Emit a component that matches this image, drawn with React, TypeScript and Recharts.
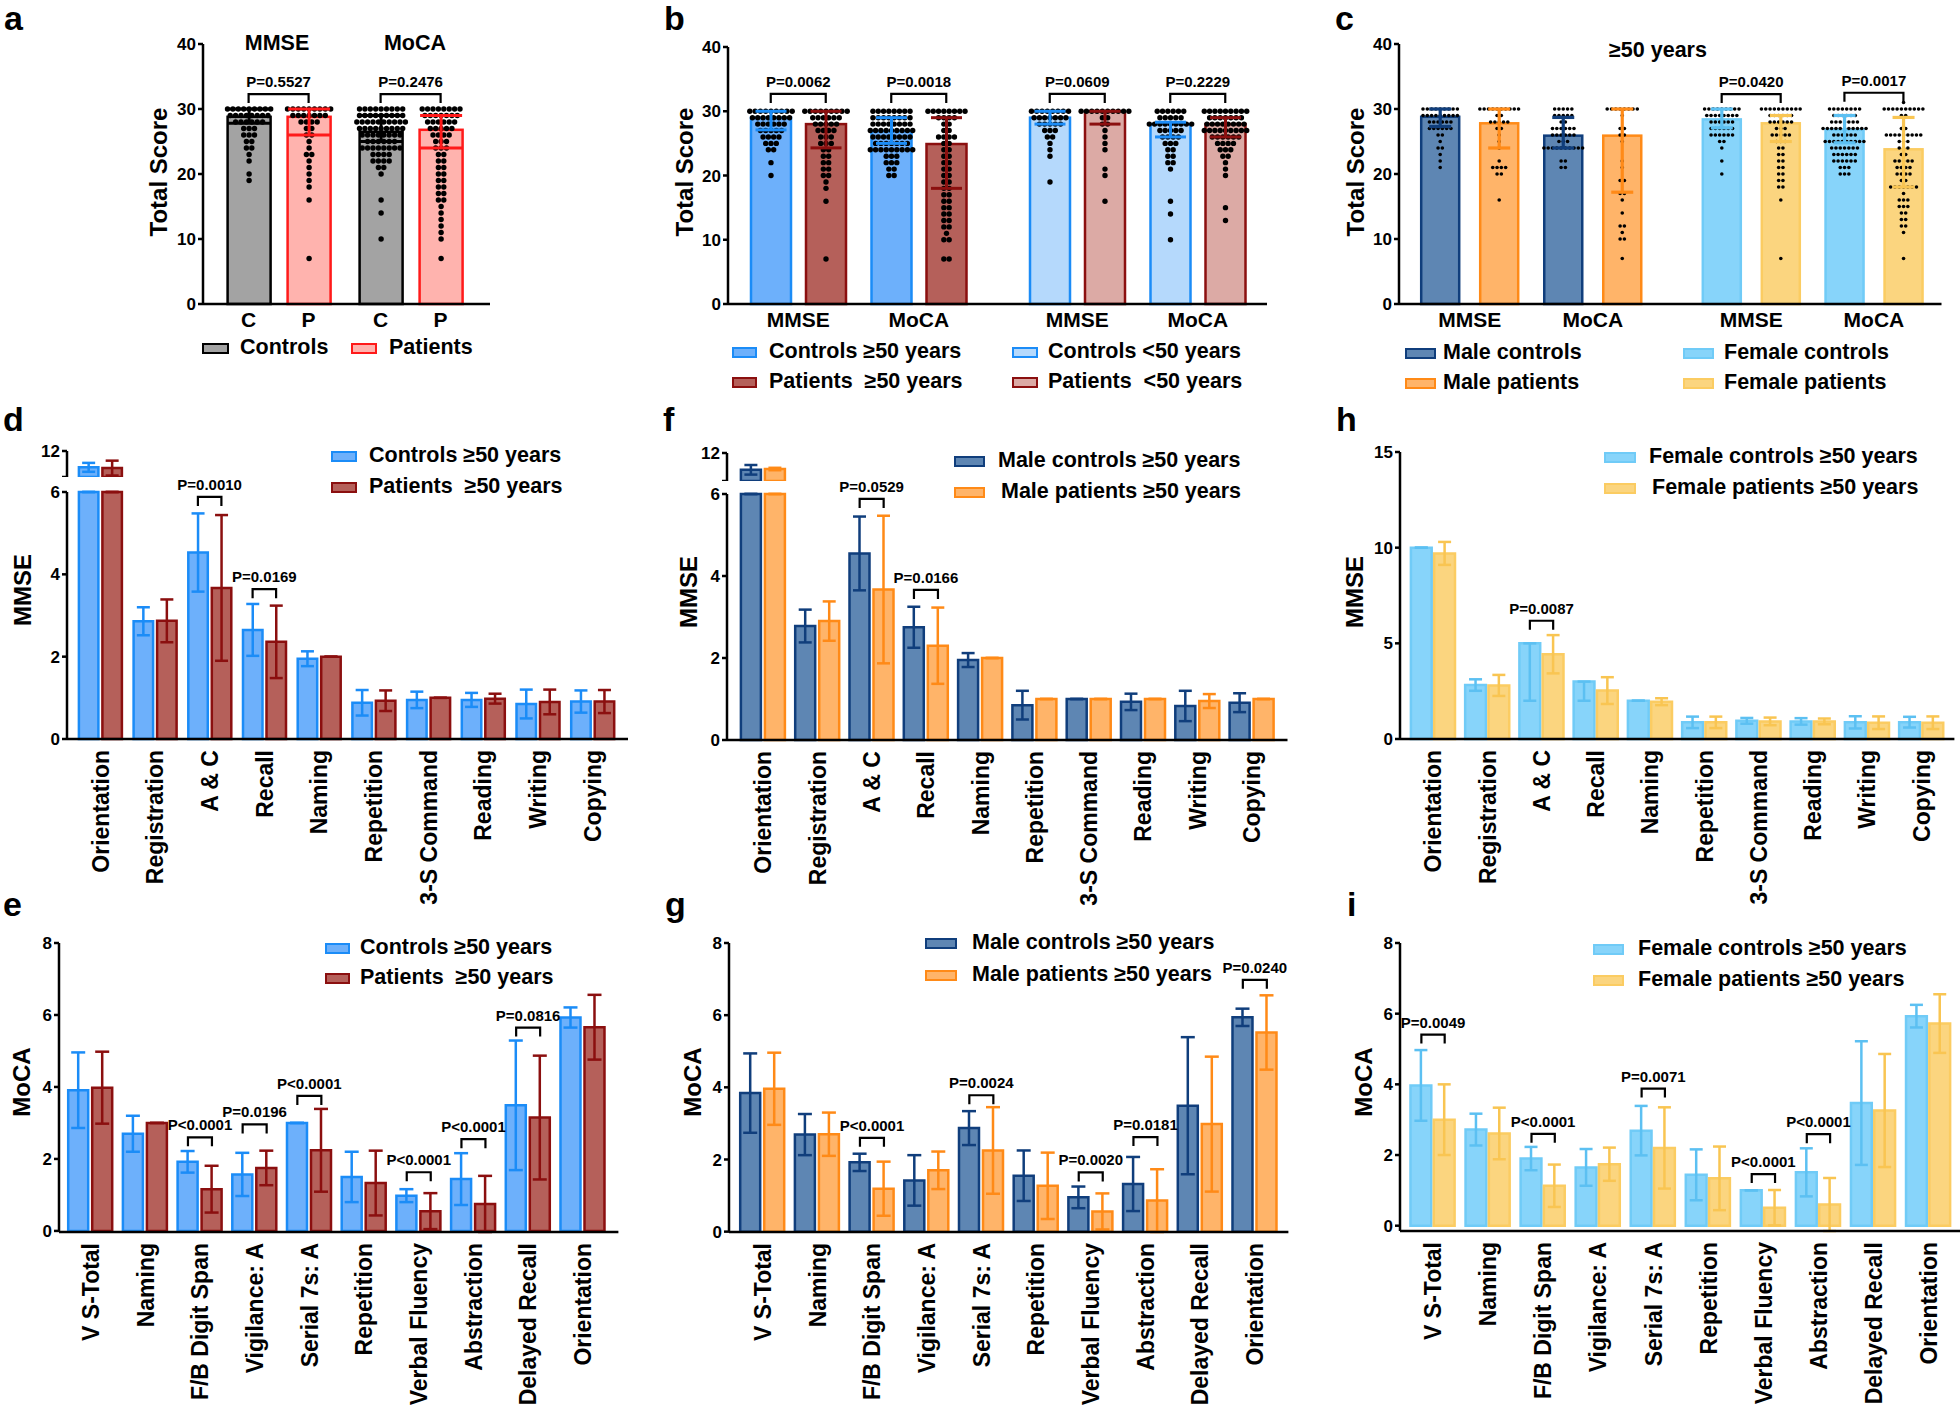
import React from 'react';
import { BarChart, Bar, XAxis, YAxis, ErrorBar, ReferenceLine } from 'recharts';

const SANS = "'Liberation Sans', Arial, sans-serif";

type Err = number | [number, number];
type Dots = [number, number][];
type Colors = { fill: string; line: string; err: string };
type Bracket = { cat: string; y: number; p: string };

// ---------- colours
const GRAY = { fill: '#a3a3a3', line: '#000000', err: '#000000' };
const PINK = { fill: '#ffb3ae', line: '#ff1a1a', err: '#ff1a1a' };
const BLUE = { fill: '#6db0fb', line: '#1b8cf7', err: '#1b8cf7' };
const RED = { fill: '#b5605a', line: '#8b0f0f', err: '#8b0f0f' };
const LBLUE = { fill: '#b5d9fc', line: '#1b8cf7', err: '#1b8cf7' };
const LRED = { fill: '#dcaaa5', line: '#8b0f0f', err: '#8b0f0f' };
const NAVY = { fill: '#5e86b3', line: '#103e7c', err: '#103e7c' };
const ORANGE = { fill: '#ffb469', line: '#ff8a17', err: '#ff8a17' };
const SKY = { fill: '#87d4fa', line: '#70cbf7', err: '#5cc0f2' };
const GOLD = { fill: '#fbd57f', line: '#fbcc62', err: '#f9c552' };

// ---------- panel a (total scores, all ages)
const aCats = ['MMSE', 'MoCA'];
const aCtrl = [28.8, 26.5];
const aCtrlErr: Err[] = [[1, 1.2], [1.5, 2.5]];
const aPat = [28.8, 26.8];
const aPatErr: Err[] = [[2.8, 1.2], [2.8, 2.2]];
const aCtrlDots: Dots[] = [
  [[30, 9], [29, 8], [28, 6], [27, 3], [26, 3], [25, 2], [24, 2], [23, 1], [22, 1], [20, 1], [19, 1]],
  [[30, 9], [29, 9], [28, 10], [27, 9], [26, 8], [25, 6], [24, 8], [23, 4], [22, 4], [21, 2], [20, 1], [16, 1], [14, 1], [10, 1]],
];
const aPatDots: Dots[] = [
  [[30, 9], [29, 7], [28, 4], [27, 2], [26, 2], [25, 1], [24, 1], [23, 2], [22, 1], [21, 1], [20, 1], [19, 1], [18, 1], [16, 1], [7, 1]],
  [[30, 8], [29, 7], [28, 6], [27, 5], [26, 4], [25, 3], [24, 3], [23, 2], [22, 2], [21, 2], [20, 2], [19, 2], [18, 2], [17, 2], [16, 2], [15, 1], [14, 1], [13, 1], [12, 1], [11, 1], [10, 1], [7, 1]],
];
const aTickLabels: [string, string] = ['C', 'P'];
const aBrackets: Bracket[] = [
  { cat: 'MMSE', y: 32.3, p: 'P=0.5527' },
  { cat: 'MoCA', y: 32.3, p: 'P=0.2476' },
];

// ---------- panel b (by age)
const bCats = ['MMSE', 'MoCA'];
const bCtrlOld = [29.0, 26.9];
const bCtrlOldErr: Err[] = [[1.9, 1.0], [1.9, 2.1]];
const bPatOld = [28.0, 24.9];
const bPatOldErr: Err[] = [[3.7, 2.0], [6.9, 4.1]];
const bCtrlYoung = [29.0, 28.0];
const bCtrlYoungErr: Err[] = [[1.0, 1.0], [2.0, 0.3]];
const bPatYoung = [30.0, 28.0];
const bPatYoungErr: Err[] = [[2.0, 0], [2.0, 1.0]];
const bCtrlOldDots: Dots[] = [
  [[30, 9], [29, 8], [28, 6], [27, 5], [26, 4], [25, 3], [24, 2], [22, 1], [20, 1]],
  [[30, 8], [29, 8], [28, 8], [27, 9], [26, 8], [25, 7], [24, 9], [23, 3], [22, 3], [21, 2], [20, 2]],
];
const bPatOldDots: Dots[] = [
  [[30, 9], [29, 6], [28, 5], [27, 4], [26, 3], [25, 3], [24, 2], [23, 2], [22, 2], [21, 2], [20, 2], [19, 1], [18, 1], [16, 1], [7, 1]],
  [[30, 8], [29, 4], [28, 2], [27, 2], [26, 4], [25, 2], [24, 2], [23, 2], [22, 2], [21, 2], [20, 2], [19, 2], [18, 2], [17, 2], [16, 2], [15, 2], [14, 2], [13, 2], [12, 2], [11, 1], [10, 2], [7, 2]],
];
const bCtrlYoungDots: Dots[] = [
  [[30, 8], [29, 7], [28, 5], [27, 3], [26, 2], [25, 1], [24, 1], [23, 1], [19, 1]],
  [[30, 6], [29, 5], [28, 9], [27, 5], [26, 4], [25, 3], [24, 2], [23, 2], [22, 2], [21, 1], [16, 1], [14, 1], [10, 1]],
];
const bPatYoungDots: Dots[] = [
  [[30, 10], [29, 2], [28, 2], [27, 1], [26, 1], [25, 1], [24, 1], [21, 1], [20, 1], [16, 1]],
  [[30, 9], [29, 7], [28, 8], [27, 9], [26, 6], [25, 4], [24, 3], [23, 2], [22, 1], [21, 1], [20, 1], [15, 1], [13, 1]],
];
const bOldBrackets: Bracket[] = [
  { cat: 'MMSE', y: 32.7, p: 'P=0.0062' },
  { cat: 'MoCA', y: 32.7, p: 'P=0.0018' },
];
const bYoungBrackets: Bracket[] = [
  { cat: 'MMSE', y: 32.7, p: 'P=0.0609' },
  { cat: 'MoCA', y: 32.7, p: 'P=0.2229' },
];

// ---------- panel c (by sex, >=50 years)
const cCats = ['MMSE', 'MoCA'];
const cMaleCtrl = [28.8, 25.9];
const cMaleCtrlErr: Err[] = [[1.5, 1.2], [1.9, 2.8]];
const cMalePat = [27.8, 25.9];
const cMalePatErr: Err[] = [[3.8, 2.2], [8.7, 4.1]];
const cFemCtrl = [28.4, 26.8];
const cFemCtrlErr: Err[] = [[1.3, 1.6], [2.0, 2.2]];
const cFemPat = [27.8, 23.8];
const cFemPatErr: Err[] = [[2.8, 1.2], [5.8, 4.9]];
const cMaleCtrlDots: Dots[] = [
  [[30, 9], [29, 9], [28, 6], [27, 6], [26, 2], [25, 1], [24, 2], [23, 1], [22, 1], [21, 1]],
  [[30, 5], [29, 5], [28, 2], [27, 6], [26, 6], [25, 3], [24, 10], [22, 2], [21, 2]],
];
const cMalePatDots: Dots[] = [
  [[30, 10], [29, 2], [28, 5], [27, 2], [26, 1], [25, 1], [24, 1], [22, 1], [21, 4], [20, 2], [16, 1]],
  [[30, 8], [29, 1], [27, 2], [26, 2], [25, 1], [22, 1], [21, 1], [19, 2], [17, 2], [16, 1], [14, 1], [12, 2], [11, 1], [10, 2], [7, 1]],
];
const cFemCtrlDots: Dots[] = [
  [[30, 9], [29, 8], [28, 6], [27, 6], [26, 6], [25, 2], [24, 1], [22, 1], [20, 1]],
  [[30, 8], [29, 6], [28, 7], [27, 11], [26, 6], [25, 10], [24, 7], [23, 6], [22, 6], [21, 3], [20, 3]],
];
const cFemPatDots: Dots[] = [
  [[30, 10], [29, 6], [28, 6], [27, 3], [26, 5], [25, 3], [24, 2], [23, 2], [22, 2], [21, 2], [20, 2], [19, 2], [18, 2], [16, 1], [7, 1]],
  [[31, 1], [30, 10], [29, 2], [27, 2], [26, 9], [25, 3], [24, 3], [23, 2], [22, 5], [21, 4], [20, 4], [19, 2], [18, 7], [17, 1], [16, 3], [15, 3], [14, 2], [13, 2], [12, 2], [11, 1], [7, 1]],
];
const cFemBrackets: Bracket[] = [
  { cat: 'MMSE', y: 32.3, p: 'P=0.0420' },
  { cat: 'MoCA', y: 32.5, p: 'P=0.0017' },
];

// ---------- MMSE sub-scores (d, f, h)
const mmseCats = ['Orientation', 'Registration', 'A & C', 'Recall', 'Naming', 'Repetition', '3-S Command', 'Reading', 'Writing', 'Copying'];
const dCtrl = [9.8, 2.86, 4.53, 2.65, 1.95, 0.88, 0.95, 0.95, 0.85, 0.91];
const dCtrlErr: Err[] = [0.6, 0.34, 0.95, 0.63, 0.18, 0.31, 0.2, 0.17, 0.35, 0.27];
const dPat = [9.7, 2.87, 3.67, 2.36, 2.0, 0.93, 1.0, 0.98, 0.9, 0.91];
const dPatErr: Err[] = [1.0, 0.52, 1.77, 0.88, 0, 0.25, 0, 0.12, 0.3, 0.28];
const dBrackets: Bracket[] = [
  { cat: 'A & C', y: 5.88, p: 'P=0.0010' },
  { cat: 'Recall', y: 3.64, p: 'P=0.0169' },
];
const fCtrl = [9.9, 2.78, 4.55, 2.75, 1.95, 0.85, 1.0, 0.93, 0.83, 0.91];
const fCtrlErr: Err[] = [0.6, 0.4, 0.9, 0.5, 0.17, 0.35, 0, 0.2, 0.37, 0.23];
const fPat = [10.0, 2.9, 3.67, 2.3, 2.0, 1.0, 1.0, 1.0, 0.95, 1.0];
const fPatErr: Err[] = [0.15, 0.48, 1.8, 0.93, 0, 0, 0, 0, 0.17, 0];
const fBrackets: Bracket[] = [
  { cat: 'A & C', y: 5.88, p: 'P=0.0529' },
  { cat: 'Recall', y: 3.66, p: 'P=0.0166' },
];
const hCtrl = [10.0, 2.82, 5.0, 3.0, 2.0, 0.87, 0.95, 0.92, 0.87, 0.88];
const hCtrlErr: Err[] = [0, 0.3, [3, 0], [1, 0], 0, 0.3, 0.15, 0.17, 0.32, 0.28];
const hPat = [9.7, 2.8, 4.43, 2.53, 1.95, 0.87, 0.92, 0.92, 0.85, 0.85];
const hPatErr: Err[] = [0.6, 0.55, 1.0, 0.7, 0.18, 0.3, 0.2, 0.15, 0.33, 0.33];
const hBrackets: Bracket[] = [{ cat: 'A & C', y: 6.18, p: 'P=0.0087' }];

// ---------- MoCA sub-scores (e, g, i)
const mocaCats = ['V S-Total', 'Naming', 'F/B Digit Span', 'Vigilance: A', 'Serial 7s: A', 'Repetition', 'Verbal Fluency', 'Abstraction', 'Delayed Recall', 'Orientation'];
const eCtrl = [3.91, 2.7, 1.92, 1.57, 3.0, 1.5, 0.98, 1.44, 3.49, 5.93];
const eCtrlErr: Err[] = [1.05, 0.5, 0.3, 0.6, 0, 0.7, 0.18, 0.72, 1.8, 0.28];
const ePat = [3.98, 3.0, 1.16, 1.75, 2.24, 1.33, 0.55, 0.75, 3.15, 5.66];
const ePatErr: Err[] = [1.0, 0, 0.65, 0.48, 1.15, 0.9, 0.5, 0.78, 1.72, 0.9];
const eBrackets: Bracket[] = [
  { cat: 'F/B Digit Span', y: 2.6, p: 'P<0.0001' },
  { cat: 'Vigilance: A', y: 2.96, p: 'P=0.0196' },
  { cat: 'Serial 7s: A', y: 3.75, p: 'P<0.0001' },
  { cat: 'Verbal Fluency', y: 1.63, p: 'P<0.0001' },
  { cat: 'Abstraction', y: 2.55, p: 'P<0.0001' },
  { cat: 'Delayed Recall', y: 5.65, p: 'P=0.0816' },
];
const gCtrl = [3.84, 2.69, 1.92, 1.42, 2.87, 1.55, 0.95, 1.32, 3.49, 5.94];
const gCtrlErr: Err[] = [1.1, 0.57, 0.24, 0.7, 0.47, 0.7, 0.3, 0.75, 1.9, 0.24];
const gPat = [3.96, 2.7, 1.19, 1.7, 2.25, 1.27, 0.56, 0.86, 2.98, 5.52];
const gPatErr: Err[] = [1.0, 0.6, 0.75, 0.52, 1.2, 0.92, 0.5, 0.87, 1.87, 1.03];
const gBrackets: Bracket[] = [
  { cat: 'F/B Digit Span', y: 2.6, p: 'P<0.0001' },
  { cat: 'Serial 7s: A', y: 3.78, p: 'P=0.0024' },
  { cat: 'Verbal Fluency', y: 1.64, p: 'P=0.0020' },
  { cat: 'Abstraction', y: 2.62, p: 'P=0.0181' },
  { cat: 'Orientation', y: 6.98, p: 'P=0.0240' },
];
const iCtrl = [3.97, 2.72, 1.9, 1.65, 2.69, 1.44, 1.0, 1.51, 3.47, 5.93];
const iCtrlErr: Err[] = [1.0, 0.45, 0.33, 0.52, 0.7, 0.72, 0, 0.68, 1.75, 0.32];
const iPat = [3.0, 2.61, 1.13, 1.74, 2.2, 1.34, 0.51, 0.6, 3.26, 5.72];
const iPatErr: Err[] = [1.0, 0.73, 0.6, 0.47, 1.15, 0.9, 0.5, 0.75, 1.6, 0.83];
const iBrackets: Bracket[] = [
  { cat: 'V S-Total', y: 5.41, p: 'P=0.0049' },
  { cat: 'F/B Digit Span', y: 2.6, p: 'P<0.0001' },
  { cat: 'Serial 7s: A', y: 3.88, p: 'P=0.0071' },
  { cat: 'Verbal Fluency', y: 1.46, p: 'P<0.0001' },
  { cat: 'Abstraction', y: 2.59, p: 'P<0.0001' },
];

const totalTicks = [0, 10, 20, 30, 40];

// ---------- helpers
const pair = (e: Err): [number, number] => (Array.isArray(e) ? e : [e, e]);
const AXW = 50;
const MT = 25;
const MR = 10;

const BText = ({ x, y, size, anchor = 'middle', dy, children }: any) => (
  <text x={x} y={y} textAnchor={anchor} dy={dy} fill="#000" fontFamily={SANS} fontWeight={700} fontSize={size}>
    {children}
  </text>
);

const yTick = (fmt?: (v: number) => string) => (props: any) => {
  const { x, y, payload } = props;
  const s = fmt ? fmt(payload.value) : String(payload.value);
  return <BText x={x} y={y} size={17} anchor="end" dy="0.355em">{s}</BText>;
};

const yAxisStyle = {
  axisLine: { stroke: '#000', strokeWidth: 2.5 },
  tickLine: { stroke: '#000', strokeWidth: 2.5 },
  tickSize: 5,
  tickMargin: 2,
  interval: 0 as const,
};

function bracketShape(off: number, label: string, leg = 9) {
  return (props: any) => {
    const { x1, x2, y1 } = props;
    if (x1 == null || y1 == null) return <g />;
    const xa = Math.min(x1, x2) - off;
    const xb = Math.max(x1, x2) + off;
    return (
      <g>
        <path d={`M${xa},${y1 + leg}V${y1}H${xb}V${y1 + leg}`} fill="none" stroke="#000" strokeWidth={2.2} />
        <BText x={(xa + xb) / 2} y={y1 - 7} size={15}>{label}</BText>
      </g>
    );
  };
}

const RotTick = (props: any) => {
  const { x, y, payload } = props;
  const yy = y + 3;
  return (
    <text x={x} y={yy} transform={`rotate(-90 ${x} ${yy})`} textAnchor="end" dy="0.36em" fill="#000" fontFamily={SANS} fontWeight={700} fontSize={23}>
      {payload.value}
    </text>
  );
};

const catTick = (props: any) => {
  const { x, y, payload } = props;
  return <BText x={x} y={y} size={21} dy="0.71em">{payload.value}</BText>;
};

const pairTick = (labels: [string, string], off: number) => (props: any) => {
  const { x, y } = props;
  return (
    <g>
      {labels.map((l, k) => (
        <BText key={l + k} x={x + (k === 0 ? -off : off)} y={y} size={21} dy="0.71em">{l}</BText>
      ))}
    </g>
  );
};

// bar with its individual scores drawn as a swarm over it
function swarmShape(col: Colors, cats: string[], dots: Dots[], key: string, r: number, step: number, maxW: number) {
  return (props: any) => {
    const { x, y, width, height, payload } = props;
    const mean = payload[key];
    const base = y + height;
    const unit = height / mean;
    const cx = x + width / 2;
    const list = dots[cats.indexOf(payload.cat)] || [];
    const circles: React.ReactNode[] = [];
    list.forEach(([v, n], k) => {
      const s = n > 1 ? Math.min(step, maxW / (n - 1)) : 0;
      for (let i = 0; i < n; i++) {
        circles.push(<circle key={`${k}-${i}`} cx={cx + (i - (n - 1) / 2) * s} cy={base - v * unit} r={r} fill="#000" />);
      }
    });
    return (
      <g>
        <rect x={x} y={y} width={width} height={height} fill={col.fill} stroke={col.line} strokeWidth={2.5} />
        {circles}
      </g>
    );
  };
}

interface DotPanelProps {
  x0: number; x1: number; yTop: number; yBot: number; hideY?: boolean;
  cats: string[];
  a: number[]; aErr: Err[]; aDots: Dots[]; ca: Colors;
  b: number[]; bErr: Err[]; bDots: Dots[]; cb: Colors;
  barSize: number; barGap: number; padL: number; padR: number; capW: number; errW?: number;
  dotR: number; dotStep: number; dotMax: number;
  brackets: Bracket[];
  pairLabels?: [string, string];
}

function DotPanel(p: DotPanelProps) {
  const axw = p.hideY ? 0 : AXW;
  const w = axw + p.x1 - p.x0 + MR;
  const h = MT + p.yBot - p.yTop + 36;
  const data = p.cats.map((cat, i) => ({ cat, a: p.a[i], ae: pair(p.aErr[i]), b: p.b[i], be: pair(p.bErr[i]) }));
  const off = (p.barSize + p.barGap) / 2;
  const ew = p.errW ?? 2.5;
  return (
    <div style={{ position: 'absolute', left: p.x0 - axw, top: p.yTop - MT }}>
      <BarChart width={w} height={h} data={data} margin={{ top: MT, right: MR, bottom: 0, left: 0 }} barGap={p.barGap}>
        <XAxis dataKey="cat" height={36} padding={{ left: p.padL, right: p.padR }} axisLine={{ stroke: '#000', strokeWidth: 2.5 }} tickLine={false} interval={0}
          tick={p.pairLabels ? pairTick(p.pairLabels, off) : catTick} />
        <YAxis {...yAxisStyle} width={AXW} hide={p.hideY} domain={[0, 40]} ticks={totalTicks} tick={yTick()} />
        <Bar dataKey="a" barSize={p.barSize} isAnimationActive={false} shape={swarmShape(p.ca, p.cats, p.aDots, 'a', p.dotR, p.dotStep, p.dotMax)}>
          <ErrorBar dataKey="ae" direction="y" stroke={p.ca.err} strokeWidth={ew} width={p.capW} />
        </Bar>
        <Bar dataKey="b" barSize={p.barSize} isAnimationActive={false} shape={swarmShape(p.cb, p.cats, p.bDots, 'b', p.dotR, p.dotStep, p.dotMax)}>
          <ErrorBar dataKey="be" direction="y" stroke={p.cb.err} strokeWidth={ew} width={p.capW} />
        </Bar>
        {p.brackets.map((br) => (
          <ReferenceLine key={br.cat} ifOverflow="visible" segment={[{ x: br.cat, y: br.y }, { x: br.cat, y: br.y }]} shape={bracketShape(off, br.p)} />
        ))}
      </BarChart>
    </div>
  );
}

interface GroupProps {
  x0: number; x1: number; yTop: number; yBot: number;
  cats: string[];
  a: number[]; aErr: Err[]; ca: Colors;
  b: number[]; bErr: Err[]; cb: Colors;
  domain: [number, number]; ticks: number[];
  barSize: number; barGap: number; padL: number; padR: number; capW: number;
  brackets: Bracket[];
  brk?: { top: number; bottom: number; min: number; max: number };
}

const XH = 190;

function GroupPanel(p: GroupProps) {
  const w = AXW + p.x1 - p.x0 + MR;
  const max = p.domain[1];
  const off = (p.barSize + p.barGap) / 2;
  const data = p.cats.map((cat, i) => ({
    cat,
    a: Math.min(p.a[i], max),
    ae: p.a[i] > max ? [0, 0] : pair(p.aErr[i]),
    b: Math.min(p.b[i], max),
    be: p.b[i] > max ? [0, 0] : pair(p.bErr[i]),
  }));
  const bars = () => [
    <Bar key="a" dataKey="a" fill={p.ca.fill} stroke={p.ca.line} strokeWidth={2.5} barSize={p.barSize} isAnimationActive={false}>
      <ErrorBar dataKey="ae" direction="y" stroke={p.ca.err} strokeWidth={2.5} width={p.capW} />
    </Bar>,
    <Bar key="b" dataKey="b" fill={p.cb.fill} stroke={p.cb.line} strokeWidth={2.5} barSize={p.barSize} isAnimationActive={false}>
      <ErrorBar dataKey="be" direction="y" stroke={p.cb.err} strokeWidth={2.5} width={p.capW} />
    </Bar>,
  ];
  let top: React.ReactNode = null;
  if (p.brk) {
    const bk = p.brk;
    const topData = p.cats.map((cat, i) => ({
      cat,
      a: p.a[i] > bk.min ? p.a[i] : null,
      ae: pair(p.aErr[i]),
      b: p.b[i] > bk.min ? p.b[i] : null,
      be: pair(p.bErr[i]),
    }));
    top = (
      <div style={{ position: 'absolute', left: p.x0 - AXW, top: bk.top - MT }}>
        <BarChart width={w} height={MT + bk.bottom - bk.top} data={topData} margin={{ top: MT, right: MR, bottom: 0, left: 0 }} barGap={p.barGap}>
          <XAxis dataKey="cat" hide padding={{ left: p.padL, right: p.padR }} />
          <YAxis {...yAxisStyle} width={AXW} domain={[bk.min, bk.max]} ticks={[bk.min, bk.max]} allowDataOverflow
            tick={yTick((v: number) => (v === bk.max ? String(v) : ''))} />
          {bars()}
        </BarChart>
      </div>
    );
  }
  return (
    <>
      {top}
      <div style={{ position: 'absolute', left: p.x0 - AXW, top: p.yTop - MT }}>
        <BarChart width={w} height={MT + p.yBot - p.yTop + XH} data={data} margin={{ top: MT, right: MR, bottom: 0, left: 0 }} barGap={p.barGap}>
          <XAxis dataKey="cat" height={XH} padding={{ left: p.padL, right: p.padR }} axisLine={{ stroke: '#000', strokeWidth: 2.5 }} tickLine={false} interval={0} tick={<RotTick />} />
          <YAxis {...yAxisStyle} width={AXW} domain={p.domain} ticks={p.ticks} tick={yTick()} />
          {bars()}
          {p.brackets.map((br) => (
            <ReferenceLine key={br.cat} ifOverflow="visible" segment={[{ x: br.cat, y: br.y }, { x: br.cat, y: br.y }]} shape={bracketShape(off, br.p)} />
          ))}
        </BarChart>
      </div>
    </>
  );
}

// ---------- text bits
const Letter = ({ x, base, t }: { x: number; base: number; t: string }) => (
  <div style={{ position: 'absolute', left: x, top: base - 29, fontFamily: SANS, fontWeight: 700, fontSize: 34, lineHeight: 1 }}>{t}</div>
);

const VTitle = ({ x, y, t }: { x: number; y: number; t: string }) => (
  <div style={{ position: 'absolute', left: x, top: y, transform: 'translate(-50%, -50%) rotate(-90deg)', fontFamily: SANS, fontWeight: 700, fontSize: 24, whiteSpace: 'pre', lineHeight: 1 }}>{t}</div>
);

const Title = ({ x, y, t }: { x: number; y: number; t: string }) => (
  <div style={{ position: 'absolute', left: x, top: y, transform: 'translate(-50%, -50%)', fontFamily: SANS, fontWeight: 700, fontSize: 21.5, whiteSpace: 'pre', lineHeight: 1 }}>{t}</div>
);

const Key = ({ x, y, w, tx, col, t }: { x: number; y: number; w: number; tx: number; col: Colors; t: string }) => (
  <>
    <div style={{ position: 'absolute', left: x, top: y - 5.5, width: w, height: 11, boxSizing: 'border-box', background: col.fill, border: `2.5px solid ${col.line}` }} />
    <div style={{ position: 'absolute', left: tx, top: y, transform: 'translateY(-50%)', fontFamily: SANS, fontWeight: 700, fontSize: 21.5, whiteSpace: 'pre', lineHeight: 1 }}>{t}</div>
  </>
);

export default function App() {
  return (
    <div style={{ position: 'absolute', left: 0, top: 0, width: 1960, height: 1410, background: '#fff', overflow: 'hidden' }}>
      {/* a */}
      <Letter x={4} base={30} t="a" />
      <VTitle x={159} y={172} t="Total Score" />
      <Title x={277} y={44} t="MMSE" />
      <Title x={415} y={44} t="MoCA" />
      <DotPanel x0={203} x1={490} yTop={44} yBot={304} cats={aCats}
        a={aCtrl} aErr={aCtrlErr} aDots={aCtrlDots} ca={GRAY}
        b={aPat} bErr={aPatErr} bDots={aPatDots} cb={PINK}
        barSize={43} barGap={17} padL={9.6} padR={13.4} capW={21} errW={3} dotR={2.7} dotStep={5.4} dotMax={50}
        brackets={aBrackets} pairLabels={aTickLabels} />
      <Key x={202} y={348} w={27} tx={240} col={GRAY} t="Controls" />
      <Key x={351} y={348} w={26} tx={389} col={PINK} t="Patients" />

      {/* b */}
      <Letter x={664} base={30} t="b" />
      <VTitle x={685} y={172} t="Total Score" />
      <DotPanel x0={728} x1={998} yTop={47} yBot={304} cats={bCats}
        a={bCtrlOld} aErr={bCtrlOldErr} aDots={bCtrlOldDots} ca={BLUE}
        b={bPatOld} bErr={bPatOldErr} bDots={bPatOldDots} cb={RED}
        barSize={40} barGap={15} padL={10} padR={19} capW={15.5} errW={3} dotR={2.7} dotStep={5.3} dotMax={48}
        brackets={bOldBrackets} />
      <DotPanel x0={998} x1={1267} yTop={47} yBot={304} hideY cats={bCats}
        a={bCtrlYoung} aErr={bCtrlYoungErr} aDots={bCtrlYoungDots} ca={LBLUE}
        b={bPatYoung} bErr={bPatYoungErr} bDots={bPatYoungDots} cb={LRED}
        barSize={40} barGap={15} padL={19} padR={9} capW={15.5} errW={3} dotR={2.7} dotStep={5.3} dotMax={48}
        brackets={bYoungBrackets} />
      <Key x={732} y={352} w={25} tx={769} col={BLUE} t="Controls ≥50 years" />
      <Key x={732} y={382} w={25} tx={769} col={RED} t="Patients  ≥50 years" />
      <Key x={1012} y={352} w={26} tx={1048} col={LBLUE} t="Controls <50 years" />
      <Key x={1012} y={382} w={26} tx={1048} col={LRED} t="Patients  <50 years" />

      {/* c */}
      <Letter x={1335} base={30} t="c" />
      <VTitle x={1356} y={172} t="Total Score" />
      <Title x={1658} y={51} t="≥50 years" />
      <DotPanel x0={1398.5} x1={1671.5} yTop={44} yBot={304} cats={cCats}
        a={cMaleCtrl} aErr={cMaleCtrlErr} aDots={cMaleCtrlDots} ca={NAVY}
        b={cMalePat} bErr={cMalePatErr} bDots={cMalePatDots} cb={ORANGE}
        barSize={38} barGap={21} padL={9.2} padR={17.7} capW={11} errW={3.2} dotR={1.8} dotStep={4.3} dotMax={50}
        brackets={[]} />
      <DotPanel x0={1671.5} x1={1941} yTop={44} yBot={304} hideY cats={cCats}
        a={cFemCtrl} aErr={cFemCtrlErr} aDots={cFemCtrlDots} ca={SKY}
        b={cFemPat} bErr={cFemPatErr} bDots={cFemPatDots} cb={GOLD}
        barSize={38} barGap={21} padL={17.8} padR={6.2} capW={11} errW={3.2} dotR={1.8} dotStep={4.3} dotMax={50}
        brackets={cFemBrackets} />
      <Key x={1405} y={353} w={31} tx={1443} col={NAVY} t="Male controls" />
      <Key x={1405} y={383} w={31} tx={1443} col={ORANGE} t="Male patients" />
      <Key x={1683} y={353} w={31} tx={1724} col={SKY} t="Female controls" />
      <Key x={1683} y={383} w={31} tx={1724} col={GOLD} t="Female patients" />

      {/* d */}
      <Letter x={3} base={431} t="d" />
      <VTitle x={23} y={590} t="MMSE" />
      <GroupPanel x0={66.5} x1={627.5} yTop={492} yBot={739} cats={mmseCats}
        a={dCtrl} aErr={dCtrlErr} ca={BLUE} b={dPat} bErr={dPatErr} cb={RED}
        domain={[0, 6]} ticks={[0, 2, 4, 6]} barSize={19.5} barGap={4} padL={5.9} padR={8.1} capW={6.5}
        brackets={dBrackets} brk={{ top: 451, bottom: 477, min: 8.5, max: 12 }} />
      <Key x={331} y={456} w={26} tx={369} col={BLUE} t="Controls ≥50 years" />
      <Key x={331} y={487} w={26} tx={369} col={RED} t="Patients  ≥50 years" />

      {/* f */}
      <Letter x={663} base={431} t="f" />
      <VTitle x={689} y={592} t="MMSE" />
      <GroupPanel x0={727} x1={1287.5} yTop={494} yBot={740} cats={mmseCats}
        a={fCtrl} aErr={fCtrlErr} ca={NAVY} b={fPat} bErr={fPatErr} cb={ORANGE}
        domain={[0, 6]} ticks={[0, 2, 4, 6]} barSize={20} barGap={4} padL={8.9} padR={8.6} capW={6.5}
        brackets={fBrackets} brk={{ top: 453, bottom: 481, min: 8.5, max: 12 }} />
      <Key x={954} y={461} w={31} tx={998} col={NAVY} t="Male controls ≥50 years" />
      <Key x={954} y={492} w={31} tx={1001} col={ORANGE} t="Male patients ≥50 years" />

      {/* h */}
      <Letter x={1336} base={431} t="h" />
      <VTitle x={1355} y={592} t="MMSE" />
      <GroupPanel x0={1399.6} x1={1954} yTop={452} yBot={739} cats={mmseCats}
        a={hCtrl} aErr={hCtrlErr} ca={SKY} b={hPat} bErr={hPatErr} cb={GOLD}
        domain={[0, 15]} ticks={[0, 5, 10, 15]} barSize={20.8} barGap={2.5} padL={5.9} padR={6} capW={6.5}
        brackets={hBrackets} />
      <Key x={1604} y={457} w={32} tx={1649} col={SKY} t="Female controls ≥50 years" />
      <Key x={1604} y={488} w={32} tx={1652} col={GOLD} t="Female patients ≥50 years" />

      {/* e */}
      <Letter x={3} base={916} t="e" />
      <VTitle x={22} y={1082} t="MoCA" />
      <GroupPanel x0={59.3} x1={618.7} yTop={943} yBot={1232} cats={mocaCats}
        a={eCtrl} aErr={eCtrlErr} ca={BLUE} b={ePat} bErr={ePatErr} cb={RED}
        domain={[0, 8]} ticks={[0, 2, 4, 6, 8]} barSize={20} barGap={4} padL={4.2} padR={8.2} capW={7}
        brackets={eBrackets} />
      <Key x={324.5} y={948} w={25} tx={360} col={BLUE} t="Controls ≥50 years" />
      <Key x={324.5} y={978} w={25} tx={360} col={RED} t="Patients  ≥50 years" />

      {/* g */}
      <Letter x={665} base={916} t="g" />
      <VTitle x={693} y={1082} t="MoCA" />
      <GroupPanel x0={729.4} x1={1288.8} yTop={943} yBot={1232} cats={mocaCats}
        a={gCtrl} aErr={gCtrlErr} ca={NAVY} b={gPat} bErr={gPatErr} cb={ORANGE}
        domain={[0, 8]} ticks={[0, 2, 4, 6, 8]} barSize={20} barGap={4} padL={6.2} padR={6.2} capW={7}
        brackets={gBrackets} />
      <Key x={925} y={943} w={32} tx={972} col={NAVY} t="Male controls ≥50 years" />
      <Key x={925} y={975} w={32} tx={972} col={ORANGE} t="Male patients ≥50 years" />

      {/* i */}
      <Letter x={1347} base={916} t="i" />
      <VTitle x={1364} y={1082} t="MoCA" />
      <GroupPanel x0={1399.6} x1={1960} yTop={943} yBot={1231} cats={mocaCats}
        a={iCtrl} aErr={iCtrlErr} ca={SKY} b={iPat} bErr={iPatErr} cb={GOLD}
        domain={[0, 8]} ticks={[0, 2, 4, 6, 8]} barSize={20.8} barGap={2.5} padL={5.5} padR={4.3} capW={6.5}
        brackets={iBrackets} />
      <Key x={1593} y={949} w={31} tx={1638} col={SKY} t="Female controls ≥50 years" />
      <Key x={1593} y={980} w={31} tx={1638} col={GOLD} t="Female patients ≥50 years" />
    </div>
  );
}
